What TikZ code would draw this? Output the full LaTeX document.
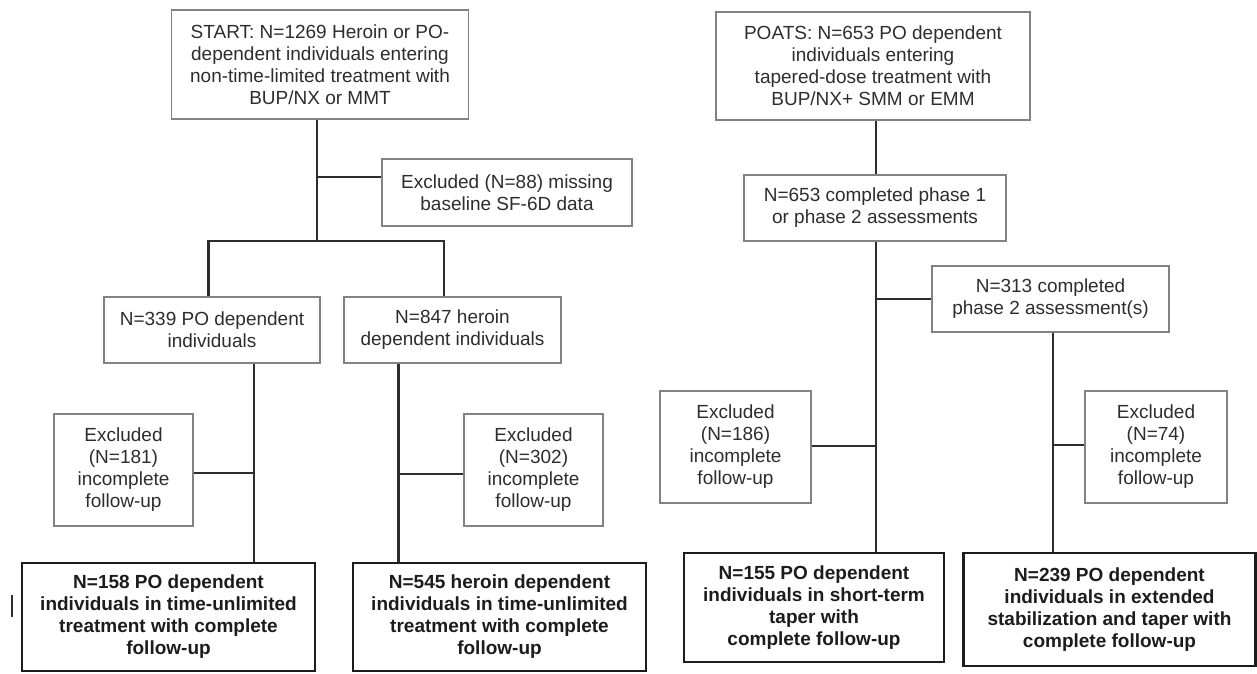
\documentclass[tikz,border=0pt]{standalone}
\usepackage{fontspec}
\setmainfont{Liberation Sans}
\usepackage{tikz}
\usetikzlibrary{calc}
\usetikzlibrary{positioning}
\definecolor{ashgray}{RGB}{130, 130, 130}
\definecolor{charcoal}{RGB}{45, 45, 45}
\definecolor{inkblack}{RGB}{28, 28, 28}

\begin{document}
\begin{tikzpicture}[x=1pt, y=-1pt,
        thinbox/.style={draw=ashgray, line width=1.2pt, text=charcoal, align=center, inner sep=0pt,
                        font=\fontsize{19}{22}\selectfont},
        boldbox/.style={draw=inkblack, line width=2.6pt, text=inkblack, align=center, inner sep=0pt,
                        font=\fontsize{19}{22}\selectfont\bfseries},
        link/.style={draw=charcoal, line width=2.2pt}]
            \useasboundingbox (0,0) rectangle (1257,673);
            % left flow: time-unlimited treatment
            \node[thinbox, minimum width=297pt, minimum height=109pt] (start)   at ( 320.0,  64.5)
                 {START: N=1269 Heroin or PO-\\dependent individuals entering\\non-time-limited treatment with\\BUP/NX or MMT};
            \node[thinbox, minimum width=250pt, minimum height=67pt]  (excl88)  at ( 507.0, 192.5)
                 {Excluded (N=88) missing\\baseline SF-6D data};
            \node[thinbox, minimum width=216pt, minimum height=66pt]  (po339)   at ( 212.0, 330.0)
                 {N=339 PO dependent\\individuals};
            \node[thinbox, minimum width=217pt, minimum height=66pt]  (her847)  at ( 452.5, 330.0)
                 {N=847 heroin\\dependent individuals};
            \node[thinbox, minimum width=139pt, minimum height=112pt] (excl181) at ( 123.5, 470.0)
                 {Excluded\\(N=181)\\incomplete\\follow-up};
            \node[thinbox, minimum width=139pt, minimum height=112pt] (excl302) at ( 533.5, 470.0)
                 {Excluded\\(N=302)\\incomplete\\follow-up};
            \node[boldbox, minimum width=293pt, minimum height=108pt] (po158)   at ( 168.5, 617.0)
                 {N=158 PO dependent\\individuals in time-unlimited\\treatment with complete\\follow-up};
            \node[boldbox, minimum width=293pt, minimum height=108pt] (her545)  at ( 499.5, 617.0)
                 {N=545 heroin dependent\\individuals in time-unlimited\\treatment with complete\\follow-up};
            % right flow: POATS tapered-dose treatment
            \node[thinbox, minimum width=314pt, minimum height=108pt] (poats)   at ( 873.0,  66.0)
                 {POATS: N=653 PO dependent\\individuals entering\\tapered-dose treatment with\\BUP/NX+ SMM or EMM};
            \node[thinbox, minimum width=262pt, minimum height=66pt]  (comp653) at ( 875.0, 208.0)
                 {N=653 completed phase 1\\or phase 2 assessments};
            \node[thinbox, minimum width=237pt, minimum height=66pt]  (comp313) at (1050.5, 299.0)
                 {N=313 completed\\phase 2 assessment(s)};
            \node[thinbox, minimum width=151pt, minimum height=112pt] (excl186) at ( 735.5, 447.0)
                 {Excluded\\(N=186)\\incomplete\\follow-up};
            \node[thinbox, minimum width=142pt, minimum height=112pt] (excl74)  at (1156.0, 447.0)
                 {Excluded\\(N=74)\\incomplete\\follow-up};
            \node[boldbox, minimum width=260pt, minimum height=109pt] (po155)   at ( 814.0, 607.5)
                 {N=155 PO dependent\\individuals in short-term\\taper with\\complete follow-up};
            \node[boldbox, minimum width=292pt, minimum height=113pt] (po239)   at (1109.5, 609.5)
                 {N=239 PO dependent\\individuals in extended\\stabilization and taper with\\complete follow-up};
            % junctions
            \coordinate (j1) at ( 317.0, 177.0);
            \coordinate (jl) at ( 208.5, 241.0);
            \coordinate (jr) at ( 444.0, 241.0);
            \coordinate (t1) at ( 254.0, 473.0);
            \coordinate (t2) at ( 398.5, 474.0);
            \coordinate (t3) at ( 876.0, 299.0);
            \coordinate (t4) at ( 876.0, 446.0);
            \coordinate (t5) at (1053.0, 445.0);
            \coordinate (tick) at (12.0, 595.0);
            % connectors
            \draw[link] (start.south -| j1) -- (j1 |- jl);
            \draw[link] (j1) -- (j1 -| excl88.west);
            \draw[link] (jl |- po339.north) -- (jl) -- (jr) -- (jr |- her847.north);
            \draw[link] (t1 |- po339.south) -- (t1 |- po158.north);
            \draw[link] (t1) -- (t1 -| excl181.east);
            \draw[link] (t2 |- her847.south) -- (t2 |- her545.north);
            \draw[link] (t2) -- (t2 -| excl302.west);
            \draw[link] (poats.south -| t3) -- (t3 |- comp653.north);
            \draw[link] (t3 |- comp653.south) -- (t3 |- po155.north);
            \draw[link] (t3) -- (t3 -| comp313.west);
            \draw[link] (t4) -- (t4 -| excl186.east);
            \draw[link] (t5 |- comp313.south) -- (t5 |- po239.north);
            \draw[link] (t5) -- (t5 -| excl74.west);
            \draw[charcoal, line width=2pt] (tick) -- ++(0,22);
        \end{tikzpicture}
\end{document}
